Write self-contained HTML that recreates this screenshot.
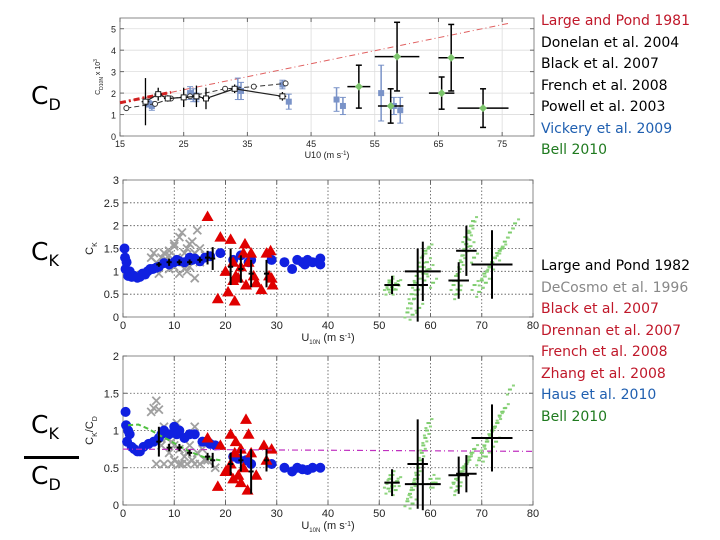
<!DOCTYPE html>
<html><head><meta charset="utf-8"><style>
body{margin:0;background:#fff;width:720px;height:540px;overflow:hidden;font-family:"Liberation Sans",sans-serif}
svg{display:block}
.lg{font-family:"DejaVu Sans","Liberation Sans",sans-serif;font-size:14px}
</style></head><body>
<svg id="s" width="720" height="540" viewBox="0 0 720 540">
<g font-family="DejaVu Sans, Liberation Sans, sans-serif" fill="#000">
<text x="31" y="104" font-size="25">C<tspan font-size="16" dy="6">D</tspan></text>
<text x="31" y="260" font-size="25">C<tspan font-size="16" dy="6">K</tspan></text>
<text x="31" y="433" font-size="25">C<tspan font-size="16" dy="6">K</tspan></text>
<rect x="24" y="456" width="55" height="3" fill="#000"/>
<text x="31" y="484" font-size="25">C<tspan font-size="16" dy="6">D</tspan></text>
</g>
<g class="lg">
<text x="541" y="25" fill="#c0182a">Large and Pond 1981</text>
<text x="541" y="47" fill="#000">Donelan et al. 2004</text>
<text x="541" y="68" fill="#000">Black et al. 2007</text>
<text x="541" y="90" fill="#000">French et al. 2008</text>
<text x="541" y="111" fill="#000">Powell et al. 2003</text>
<text x="541" y="133" fill="#1f5fb0">Vickery et al. 2009</text>
<text x="541" y="154" fill="#1f7a1f">Bell 2010</text>
</g>
<g class="lg">
<text x="541" y="270" fill="#000">Large and Pond 1982</text>
<text x="541" y="292" fill="#888">DeCosmo et al. 1996</text>
<text x="541" y="313" fill="#c0182a">Black et al. 2007</text>
<text x="541" y="335" fill="#c0182a">Drennan et al. 2007</text>
<text x="541" y="356" fill="#c0182a">French et al. 2008</text>
<text x="541" y="378" fill="#c0182a">Zhang et al. 2008</text>
<text x="541" y="399" fill="#1f5fb0">Haus et al. 2010</text>
<text x="541" y="421" fill="#1f7a1f">Bell 2010</text>
</g>
</svg>
<script>
// ---------- TOP PANEL DATA (CD x 10^3) ----------
const cdXTicks=[15,25,35,45,55,65,75];
const cdYTicks=[0,1,2,3,4,5];
const lp81X=[15,76];
const lp81Y=[1.55,5.25];
const donelanX=[16,20.5,23,26,31.5,36,41];
const donelanY=[1.3,1.5,1.75,1.85,2.2,2.3,2.45];
const frenchX=[19,21,22.5,25,27,28.5,33,40.5];
const frenchY=[1.6,1.95,1.75,1.8,1.85,1.75,2.2,1.85];
const frenchErr=[1.1,0.3,0.15,0.45,0.5,0.5,0.2,0.2];
const powellX=[19.5,20,26,26.5,27,33.5,34,40.5,41.5,49,50,56,58,59];
const powellY=[1.5,1.4,2.0,1.9,1.8,2.2,2.1,2.4,1.6,1.7,1.4,2.0,1.4,1.2];
const powellErr=[0.15,0.2,0.3,0.3,0.2,0.5,0.4,0.2,0.35,0.55,0.4,1.3,0.4,0.6];
const bellCdX=[52.5,58.5,57.5,65.5,67,72];
const bellCdY=[2.3,3.7,1.4,2.0,3.65,1.3];
const bellCdXe=[1.8,3.5,2,2,2,4];
const bellCdYe=[1.0,1.6,0.8,0.75,1.55,0.9];
// ---------- MIDDLE PANEL DATA (CK) ----------
const xTicks=[0,10,20,30,40,50,60,70,80];
const ckYTicks=[0,0.5,1,1.5,2,2.5,3];
const hausX=[0.3,0.4,0.5,0.7,1,1.3,1.7,2.2,2.8,3.3,3.8,4.3,4.8,5.3,5.8,6.5,7,8,9,10,10.5,11,12,13,13.5,14,15,16,17,19,21.5,23,24.5,25,29,31.5,33,34,35,35.5,36,37,38.5,38.5];
const hausCkY=[1.5,1.3,1.05,1.2,0.9,1.0,0.88,0.9,0.86,0.88,0.95,0.93,1.0,1.05,1.05,1.08,1.1,1.18,1.15,1.2,1.25,1.22,1.2,1.3,1.25,1.28,1.22,1.3,1.33,1.4,1.25,1.35,1.2,1.25,1.25,1.2,1.05,1.25,1.2,1.15,1.25,1.2,1.28,1.15];
const decosmoX=[5.5,6,6.5,7,7.5,8,8,8.5,9,9,9.5,10,10,10.5,11,11,11.5,12,12,12.5,13,13,13.5,14,14,14.5,15,15,16,7,9,11,12.5,10,13];
const decosmoCkY=[1.3,1.4,1.2,1.1,1.3,1.4,1.15,1.25,1.05,1.35,1.2,1.55,1.1,1.3,1.75,1.2,1.85,1.05,1.4,1.5,1.25,1.6,1.65,0.85,1.4,1.9,1.2,1.5,1.35,0.95,1.45,0.95,1.0,1.6,1.1];
const redX=[16.5,18.5,19,20,20.5,21,21.5,21.8,22,22.5,23,23.5,23.8,24,24.5,25,26,27,28,28.5,28.8,29,29.2,21.5,25.5];
const redCkY=[2.2,0.4,1.75,1.0,0.55,1.7,0.8,0.35,0.9,0.85,1.1,1.4,1.6,0.7,1.2,1.4,0.75,0.6,1.4,0.9,1.45,0.85,0.7,1.2,0.9];
const lp82X=[7,9,11,13,15,16.5,17.5,21,23,25,28];
const lp82CkY=[1.15,1.2,1.2,1.2,1.25,1.3,1.28,1.1,1.05,0.95,0.95];
const lp82CkErr=[0.05,0.08,0.06,0.06,0.06,0.15,0.25,0.4,0.3,0.3,0.3];
const bellCkX=[52.5,57.5,58.5,65.5,67,72];
const bellCkY=[0.7,0.7,1.0,0.8,1.45,1.15];
const bellCkXe=[1.5,2,3.5,2,2,4];
const bellCkYe=[0.2,0.8,0.65,0.4,0.55,0.75];
const greenCkX=[51.5,52,52.5,53,53.5,52,51.8,53.2,55.5,56,56.3,56.8,57,57.3,57.6,58,58.3,58.6,59,59.3,59.6,56.5,57.8,58.8,59.8,60.5,64.5,65,65.3,65.7,66,66.3,66.6,67,67.3,67.6,68,68.3,65.2,66.8,67.8,68.5,68.6,69.5,70,70.5,71,71.5,72,72.5,73,73.5,74,74.5,75.5,76.5,70.8,72.8];
const greenCkY=[0.7,0.75,0.65,0.7,0.72,0.8,0.6,0.6,0.1,0.3,0.5,0.4,0.75,0.9,0.6,1.1,1.3,0.95,1.45,1.2,1.5,0.05,0.2,0.8,1.05,0.75,0.7,0.9,0.6,1.05,1.2,1.35,1.45,1.6,1.7,1.85,2.0,2.1,0.5,1.75,1.55,1.3,0.7,0.55,0.8,0.95,1.0,1.1,1.2,1.3,1.4,1.45,1.5,1.65,1.85,2.05,0.75,1.15];
// ---------- BOTTOM PANEL DATA (CK/CD) ----------
const ratioYTicks=[0,0.5,1,1.5,2];
const hausRatioX=[0.5,0.6,0.8,1,1.3,1.7,2.2,2.8,3.3,4,5,6,7,7.5,8,9,10,10.5,11,12,13,14,15.5,16.5,17,18,21.5,22.5,24,25,29,31.5,33,34,35,36,37,38.5];
const hausRatioY=[1.25,1.07,0.85,1.0,0.95,0.78,0.75,0.72,0.72,0.78,0.82,0.85,0.9,0.95,1.0,0.95,1.05,0.95,1.0,0.9,0.95,0.95,0.85,0.85,0.82,0.8,0.65,0.62,0.6,0.55,0.55,0.5,0.45,0.5,0.48,0.47,0.5,0.5];
const decosmoRX=[5.5,6,6.5,7,7.5,8,8.5,9,9.5,10,10.5,11,11.5,12,12.5,13,13.5,14,14.5,15,15.5,16,6.5,8,9.5,11,12.5,14,16.5,18,10,12];
const decosmoRY=[1.25,1.3,1.4,1.28,0.8,1.05,0.9,0.7,0.85,0.6,1.1,0.75,0.55,0.95,0.7,0.8,0.6,1.05,0.7,0.55,0.75,0.6,0.55,0.55,0.55,0.55,0.55,0.55,0.6,0.5,0.8,0.65];
const redRX=[16.5,18.5,19,20,20.5,21,21.5,21.8,22,22.5,23,23.5,24,24.3,24.5,25,26,27.5,28,29,21,23];
const redRY=[0.9,0.25,0.8,0.45,0.45,0.95,0.35,0.7,0.85,0.4,0.75,0.5,1.15,0.2,0.95,0.7,0.4,0.8,0.6,0.75,0.55,0.3];
const lp82RX=[7,9,11,13,16.5,17.5,21,23,25,28];
const lp82RY=[0.85,0.77,0.77,0.7,0.65,0.6,0.55,0.6,0.45,0.6];
const lp82RErr=[0.2,0.05,0.05,0.04,0.05,0.1,0.15,0.15,0.3,0.15];
const fitX=[1,3,5,7,9,11,13,15,17,19];
const fitY=[1.07,1.08,1.02,0.94,0.87,0.79,0.72,0.66,0.62,0.6];
const meanLineX=[0,80];
const meanLineY=[0.75,0.72];
const bellRX=[52.5,57.5,58.5,65.5,67,72];
const bellRY=[0.3,0.55,0.28,0.4,0.42,0.9];
const bellRXe=[1.5,2,3.5,2,2,4];
const bellRYe=[0.18,0.6,0.35,0.25,0.25,0.45];
const greenRX=[51.5,52,52.5,53,53.5,52.2,51.8,53.2,55.5,56,56.3,56.8,57,57.3,57.6,58,58.3,58.6,59,59.3,59.6,60,60.5,56.5,61,64.5,65,65.3,65.7,66,66.3,66.6,67,67.3,67.6,68,65.2,68.5,69.5,70,70.5,71,71.5,72,72.5,73,73.5,74,74.5,75.5,70.8,72.8];
const greenRY=[0.3,0.35,0.25,0.3,0.32,0.4,0.22,0.2,0.05,0.15,0.2,0.3,0.35,0.4,0.5,0.6,0.7,0.8,0.9,1.0,1.1,0.35,0.3,0.02,0.3,0.3,0.35,0.25,0.4,0.45,0.5,0.52,0.55,0.6,0.65,0.7,0.2,0.75,0.6,0.7,0.8,0.85,0.95,1.0,1.05,1.1,1.2,1.25,1.3,1.55,0.65,0.85];

const NS='http://www.w3.org/2000/svg';
const svg=document.getElementById('s');
function mk(tag,attrs,parent){const e=document.createElementNS(NS,tag);for(const k in attrs)e.setAttribute(k,attrs[k]);(parent||svg).appendChild(e);return e;}
function scale(d0,d1,r0,r1){return v=>r0+(v-d0)/(d1-d0)*(r1-r0);}

function panel(name,x0,x1,y0,y1,L,R,T,B,xt,yt,dotted,xlab,ylab,yfmt){
  const g=mk('g',{});
  
  
  const X=scale(x0,x1,L,R),Y=scale(y0,y1,B,T);
  const gg=mk('g',{},g);
  
  
  xt.forEach(v=>{if(v>x0&&v<x1){const l=mk('line',{x1:X(v),x2:X(v),y1:T,y2:B,stroke:dotted?'#555':'#ddd','stroke-width':dotted?0.8:0.8,'stroke-dasharray':dotted?'1.5 2':'none'},gg);}});
  yt.forEach(v=>{if(v>y0&&v<y1){mk('line',{x1:L,x2:R,y1:Y(v),y2:Y(v),stroke:dotted?'#555':'#ddd','stroke-width':0.8,'stroke-dasharray':dotted?'1.5 2':'none'},gg);}});
  const box=mk('rect',{x:L,y:T,width:R-L,height:B-T,fill:'none',stroke:'#888','stroke-width':1},g);
  
  
  const xa=mk('g',{'font-size':dotted?11:9,fill:'#222','text-anchor':'middle'},g);
  
  
  xt.forEach(v=>{const t=mk('text',{x:X(v),y:B+(dotted?12:11)},xa);t.textContent=v;
    mk('line',{x1:X(v),x2:X(v),y1:B,y2:B-4,stroke:'#666'},xa);mk('line',{x1:X(v),x2:X(v),y1:T,y2:T+4,stroke:'#666'},xa);});
  const ya=mk('g',{'font-size':dotted?11:9,fill:'#222','text-anchor':'end'},g);
  
  
  yt.forEach(v=>{const t=mk('text',{x:L-4,y:Y(v)+4},ya);t.textContent=v;
    mk('line',{x1:L,x2:L+4,y1:Y(v),y2:Y(v),stroke:'#666'},ya);mk('line',{x1:R,x2:R-4,y1:Y(v),y2:Y(v),stroke:'#666'},ya);});
  const xl=mk('text',{x:(L+R)/2,y:B+(dotted?24:22),'font-size':dotted?11:9,'text-anchor':'middle',fill:'#222'},g);
  xl.innerHTML=xlab;
  
  
  const yl=mk('text',{x:0,y:0,'font-size':dotted?11:7,'text-anchor':'middle',fill:'#222',transform:`translate(${L-(dotted?30:20)},${(T+B)/2}) rotate(-90)`},g);
  yl.innerHTML=ylab;
  
  
  const clip=mk('g',{},g);
  return {X,Y,g:clip};
}
function group(p,name){const g=mk('g',{},p.g);return g;}
function cross(g,X,Y,x,y,xe,ye,w){mk('line',{x1:X(x-xe),x2:X(x+xe),y1:Y(y),y2:Y(y),stroke:'#000','stroke-width':w},g);mk('line',{x1:X(x),x2:X(x),y1:Y(y-ye),y2:Y(y+ye),stroke:'#000','stroke-width':w},g);}
function circles(p,name,xs,ys,r,fill){const g=group(p,name);xs.forEach((x,i)=>mk('circle',{cx:p.X(x),cy:p.Y(ys[i]),r:r,fill:fill},g));}
function xs_(p,name,xs,ys,col){const g=group(p,name);xs.forEach((x,i)=>{const cx=p.X(x),cy=p.Y(ys[i]),s=4;mk('path',{d:`M${cx-s} ${cy-s}L${cx+s} ${cy+s}M${cx+s} ${cy-s}L${cx-s} ${cy+s}`,stroke:col,'stroke-width':1.8},g);});}
function tris(p,name,xs,ys){const g=group(p,name);xs.forEach((x,i)=>{const cx=p.X(x),cy=p.Y(ys[i]);mk('path',{d:`M${cx} ${cy-6}L${cx+6} ${cy+4.5}L${cx-6} ${cy+4.5}Z`,fill:'#e00000'},g);});}
function greens(p,name,xs,ys){const g=group(p,name);xs.forEach((x,i)=>{const cx=p.X(x),cy=p.Y(ys[i]);mk('rect',{x:cx-2,y:cy-1,width:4,height:2,fill:'#7ccc6c'},g);mk('rect',{x:cx-4,y:cy+4,width:3,height:2,fill:'#8fd47f'},g);mk('rect',{x:cx+2,y:cy-5,width:3,height:2,fill:'#8fd47f'},g);});}

// ===== Top panel =====
const P1=panel('cd-panel',15,80,0,5.5,120,534,18,136,cdXTicks,cdYTicks,false,'U10 (m s<tspan baseline-shift="super" font-size="6">-1</tspan>)','C<tspan font-size="5" baseline-shift="sub">D10N</tspan> x 10<tspan font-size="5" baseline-shift="super">3</tspan>');
{const g=group(P1,'large-pond-1981-line');
 mk('line',{x1:P1.X(lp81X[0]),y1:P1.Y(lp81Y[0]),x2:P1.X(lp81X[1]),y2:P1.Y(lp81Y[1]),stroke:'#e06060','stroke-width':1,'stroke-dasharray':'6 3 1 3'},g);
 const xe=23,ye=lp81Y[0]+(xe-lp81X[0])/(lp81X[1]-lp81X[0])*(lp81Y[1]-lp81Y[0]);
 mk('line',{x1:P1.X(lp81X[0]),y1:P1.Y(lp81Y[0]),x2:P1.X(xe),y2:P1.Y(ye),stroke:'#d02020','stroke-width':3,'stroke-dasharray':'6 3 2 3'},g);}
{const g=group(P1,'powell-2003-points');
 powellX.forEach((x,i)=>{const cx=P1.X(x);mk('line',{x1:cx,x2:cx,y1:P1.Y(powellY[i]-powellErr[i]),y2:P1.Y(powellY[i]+powellErr[i]),stroke:'#7a93c8','stroke-width':1.5},g);
  mk('line',{x1:cx-3,x2:cx+3,y1:P1.Y(powellY[i]+powellErr[i]),y2:P1.Y(powellY[i]+powellErr[i]),stroke:'#7a93c8'},g);
  mk('line',{x1:cx-3,x2:cx+3,y1:P1.Y(powellY[i]-powellErr[i]),y2:P1.Y(powellY[i]-powellErr[i]),stroke:'#7a93c8'},g);
  mk('rect',{x:cx-3,y:P1.Y(powellY[i])-3,width:6,height:6,fill:'#7a93c8'},g);});}
{const g=group(P1,'donelan-2004-line');
 mk('polyline',{points:donelanX.map((x,i)=>P1.X(x)+','+P1.Y(donelanY[i])).join(' '),fill:'none',stroke:'#333','stroke-dasharray':'5 3'},g);
 donelanX.forEach((x,i)=>mk('circle',{cx:P1.X(x),cy:P1.Y(donelanY[i]),r:2.5,fill:'#fff',stroke:'#333'},g));}
{const g=group(P1,'black-french-line');
 mk('polyline',{points:frenchX.map((x,i)=>P1.X(x)+','+P1.Y(frenchY[i])).join(' '),fill:'none',stroke:'#222','stroke-width':1.2},g);
 frenchX.forEach((x,i)=>{cross(g,P1.X,P1.Y,x,frenchY[i],0.6,frenchErr[i],1.3);mk('rect',{x:P1.X(x)-2.5,y:P1.Y(frenchY[i])-2.5,width:5,height:5,fill:'#fff',stroke:'#222'},g);});}
{const g=group(P1,'bell-2010-cd');
 bellCdX.forEach((x,i)=>{cross(g,P1.X,P1.Y,x,bellCdY[i],bellCdXe[i],bellCdYe[i],1.5);
  [bellCdY[i]-bellCdYe[i],bellCdY[i]+bellCdYe[i]].forEach(v=>mk('line',{x1:P1.X(x)-3,x2:P1.X(x)+3,y1:P1.Y(v),y2:P1.Y(v),stroke:'#000','stroke-width':1.5},g));
  const cx=P1.X(x),cy=P1.Y(bellCdY[i]);mk('path',{d:`M${cx} ${cy-4}L${cx+4} ${cy}L${cx} ${cy+4}L${cx-4} ${cy}Z`,fill:'#7cc46c'},g);});}

// ===== Middle panel =====
const P2=panel('ck-panel',0,80,0,3,123,533,180,317,xTicks,ckYTicks,true,'U<tspan font-size="6" baseline-shift="sub">10N</tspan> (m s<tspan baseline-shift="super" font-size="7">-1</tspan>)','C<tspan font-size="7" baseline-shift="sub">K</tspan>');
greens(P2,'bell-2010-ck-scatter',greenCkX,greenCkY);
xs_(P2,'decosmo-1996-ck',decosmoX,decosmoCkY,'#a0a0a0');
circles(P2,'haus-2010-ck',hausX,hausCkY,5,'#1020e0');
tris(P2,'red-studies-ck',redX,redCkY);
{const g=group(P2,'large-pond-1982-ck');lp82X.forEach((x,i)=>cross(g,P2.X,P2.Y,x,lp82CkY[i],0.5,lp82CkErr[i],2));}
{const g=group(P2,'bell-2010-ck-means');bellCkX.forEach((x,i)=>cross(g,P2.X,P2.Y,x,bellCkY[i],bellCkXe[i],bellCkYe[i],2));}

// ===== Bottom panel =====
const P3=panel('ratio-panel',0,80,0,2,123,533,356,505,xTicks,ratioYTicks,true,'U<tspan font-size="6" baseline-shift="sub">10N</tspan> (m s<tspan baseline-shift="super" font-size="7">-1</tspan>)','C<tspan font-size="7" baseline-shift="sub">K</tspan>/C<tspan font-size="7" baseline-shift="sub">D</tspan>');
greens(P3,'bell-2010-ratio-scatter',greenRX,greenRY);
xs_(P3,'decosmo-1996-ratio',decosmoRX,decosmoRY,'#a0a0a0');
circles(P3,'haus-2010-ratio',hausRatioX,hausRatioY,5,'#1020e0');
tris(P3,'red-studies-ratio',redRX,redRY);
{const g=group(P3,'fit-curve');mk('polyline',{points:fitX.map((x,i)=>P3.X(x)+','+P3.Y(fitY[i])).join(' '),fill:'none',stroke:'#50c040','stroke-width':2,'stroke-dasharray':'5 3'},g);}
{const g=group(P3,'mean-ratio-line');mk('line',{x1:P3.X(meanLineX[0]),y1:P3.Y(meanLineY[0]),x2:P3.X(meanLineX[1]),y2:P3.Y(meanLineY[1]),stroke:'#c030c0','stroke-width':1.2,'stroke-dasharray':'6 3 1 3'},g);}
{const g=group(P3,'large-pond-1982-ratio');lp82RX.forEach((x,i)=>cross(g,P3.X,P3.Y,x,lp82RY[i],0.5,lp82RErr[i],2));}
{const g=group(P3,'bell-2010-ratio-means');bellRX.forEach((x,i)=>cross(g,P3.X,P3.Y,x,bellRY[i],bellRXe[i],bellRYe[i],2));}
</script>
</body></html>
